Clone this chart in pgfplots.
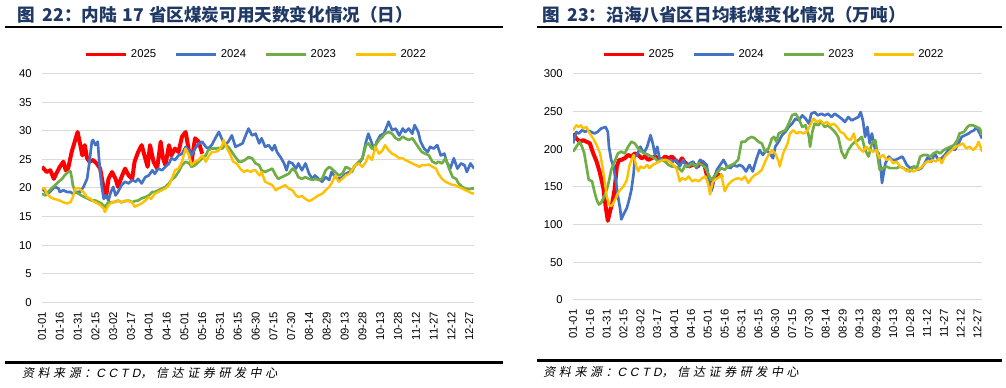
\documentclass[border=0pt]{standalone}
\usepackage{pgfplots}
\pgfplotsset{compat=1.18}
\usepackage{fontspec}
\setmainfont{Liberation Sans}
\newfontfamily\cjk{Noto Sans CJK SC}
\newfontfamily\srcfont[FakeSlant=0.2,LetterSpace=30]{Noto Sans CJK SC}
\newfontfamily\srclatin[FakeSlant=0.2,LetterSpace=30]{Liberation Sans}
\definecolor{c25}{HTML}{FF0000}
\definecolor{c24}{HTML}{4472C4}
\definecolor{c23}{HTML}{70AD47}
\definecolor{c22}{HTML}{FFC000}
\definecolor{titlec}{HTML}{1F3864}
\definecolor{gridc}{HTML}{D9D9D9}
\pgfplotsset{
 panel/.style={
  scale only axis,
  xmin=0, xmax=364,
  xtick={0,15,...,360},
  xticklabels={01-01,01-16,01-31,02-15,03-02,03-17,04-01,04-16,05-01,05-16,05-31,06-15,06-30,07-15,07-30,08-14,08-29,09-13,09-28,10-13,10-28,11-12,11-27,12-12,12-27},
  axis line style={draw=none},
  major tick length=0pt,
  ymajorgrids, grid style={gridc, line width=0.75pt},
  tick label style={font=\fontsize{8.5}{10}\selectfont},
  xticklabel style={yshift=-7pt, rotate=90, anchor=east, inner sep=0pt},
  yticklabel style={anchor=east, inner sep=0pt, xshift=-7.5pt},
  /pgf/number format/assume math mode=true,
  legend style={draw=none, fill=none, legend columns=4, inner sep=0pt, outer sep=0pt,
    font=\fontsize{8.5}{10}\selectfont, anchor=west,
    /tikz/every odd column/.append style={column sep=2.25pt},
    /tikz/every even column/.append style={column sep=14pt},
    nodes={inner sep=0pt}},
  legend image code/.code={\draw[#1, line width=2.25pt] (0pt,0pt) -- (30pt,0pt);},
  every axis plot/.append style={line join=round, mark=none},
 },
 s25/.style={c25, line width=3pt},
 s24/.style={c24, line width=2pt},
 s23/.style={c23, line width=2pt},
 s22/.style={c22, line width=1.8pt},
}
\begin{document}
\begin{tikzpicture}
\useasboundingbox (0,0) rectangle (754.5pt,291pt);
% ---------- left panel ----------
\node[anchor=west, inner sep=0pt, text=titlec] at (12.75pt,279.75pt) {\cjk\bfseries\fontsize{13.2}{15}\selectfont 图\hspace{0.45em}22：内陆\hspace{0.3em}17\hspace{0.3em}省区煤炭可用天数变化情况（日）};
\draw[line width=1.5pt] (3.75pt,270.5pt) -- (377.25pt,270.5pt);
\draw[line width=2pt] (3.75pt,19.3pt) -- (377.25pt,19.3pt);
\node[anchor=west, inner sep=0pt] at (16.3pt,11.25pt) {\srcfont\fontsize{9}{11}\selectfont 资料来源：{\srclatin CCTD}，信达证券研发中心};
\begin{axis}[panel, at={(31.5pt,64.275pt)}, anchor=south west, width=324pt, height=171.45pt,
  ymin=0, ymax=40, ytick={0,5,...,40},
  legend style={at={(0.0995,1.085)}}]
\addplot[s25] coordinates {(0,23.7)(4,22.8)(7,23.1)(10,21.6)(12,22.5)(15,23.7)(18,24.6)(20,23.1)(22,23.4)(25,26.3)(28,28.4)(30,29.8)(32,27.8)(34,25.7)(36,27.5)(38,25.2)(40,24.6)(43,24.9)(46,24.3)(49,23.4)(52,19.9)(54,18.4)(56,21.6)(59,22.8)(62,21.6)(64,20.2)(67,21.9)(70,23.4)(73,22.2)(76,21.6)(78,24.6)(81,26.3)(84,27.5)(87,25.2)(89,23.7)(91,27.5)(94,24.6)(97,23.4)(100,28.1)(102,25.2)(104,24.0)(107,27.5)(109,25.7)(112,26.9)(115,26.3)(118,29.0)(121,29.8)(124,26.3)(126,24.6)(129,28.7)(132,28.1)(135,26.0)};
\addlegendentry{2025}
\addplot[s24] coordinates {(0,19.9)(3,19.3)(5,19.0)(8,19.6)(11,20.2)(14,19.9)(15,19.3)(18,19.6)(21,19.3)(24,19.3)(26,19.0)(29,19.3)(32,19.3)(35,20.2)(38,21.6)(40,24.6)(42,28.1)(43,28.4)(45,27.5)(47,28.1)(48,25.2)(50,20.8)(52,18.1)(54,18.7)(56,17.8)(58,19.3)(60,20.2)(62,18.7)(64,19.3)(67,20.5)(70,21.1)(73,20.8)(76,21.4)(79,21.1)(81,21.6)(84,20.8)(87,21.9)(90,22.2)(93,23.1)(95,22.5)(98,23.4)(101,23.1)(104,23.7)(107,24.3)(109,25.2)(112,24.9)(115,25.7)(118,26.0)(121,27.2)(124,26.6)(126,25.7)(129,26.9)(132,27.8)(135,28.1)(138,27.2)(140,26.9)(143,27.5)(146,28.7)(149,29.8)(152,28.4)(154,27.5)(157,28.1)(160,29.2)(163,27.2)(166,27.5)(169,27.8)(171,28.9)(174,30.4)(177,29.2)(180,29.5)(183,27.8)(185,28.7)(188,27.2)(191,27.5)(194,26.6)(196,27.5)(198,26.3)(201,25.4)(204,24.3)(206,23.1)(208,24.6)(211,24.3)(214,23.4)(216,24.3)(219,23.1)(222,24.3)(225,22.5)(228,21.6)(230,22.2)(233,21.6)(236,21.1)(239,21.9)(242,21.4)(244,22.8)(247,21.9)(250,21.6)(253,21.9)(256,22.5)(259,22.8)(261,23.1)(264,24.0)(267,24.3)(270,25.2)(273,28.1)(275,29.5)(278,27.8)(280,26.6)(282,28.1)(285,29.2)(288,29.5)(291,31.0)(292,31.6)(295,30.1)(298,30.4)(301,29.2)(304,30.4)(306,29.8)(309,30.4)(312,29.5)(314,31.0)(317,29.8)(319,28.1)(322,26.9)(325,26.3)(327,27.2)(330,26.9)(333,27.5)(336,25.7)(339,26.0)(341,24.6)(344,23.4)(347,25.2)(350,23.4)(353,24.3)(356,24.0)(358,22.8)(361,24.3)(364,23.4)};
\addlegendentry{2024}
\addplot[s23] coordinates {(0,19.0)(3,18.7)(5,19.3)(8,19.9)(11,20.5)(14,21.1)(17,21.6)(19,22.2)(22,22.8)(24,22.9)(25,21.9)(26,20.5)(28,19.3)(31,19.0)(33,18.7)(36,18.4)(39,18.1)(42,17.8)(45,17.8)(48,17.5)(50,17.3)(53,16.7)(56,17.5)(59,17.5)(62,17.6)(64,17.8)(67,17.5)(70,17.7)(73,17.8)(76,17.5)(78,17.7)(81,17.8)(84,18.2)(87,18.4)(90,18.7)(93,19.3)(95,19.3)(98,19.6)(101,19.9)(104,20.2)(107,20.8)(109,21.4)(112,21.9)(115,22.8)(118,24.0)(121,24.6)(124,24.3)(126,23.7)(129,24.0)(132,24.6)(135,25.2)(138,25.7)(140,26.6)(143,26.9)(146,26.9)(149,27.0)(152,26.9)(154,27.5)(157,27.2)(160,26.3)(163,25.4)(166,24.6)(168,24.6)(171,24.9)(174,25.4)(177,25.2)(180,24.3)(183,24.0)(185,23.1)(188,22.8)(191,23.1)(194,23.4)(197,22.2)(199,21.6)(202,21.9)(205,22.2)(208,22.5)(211,23.4)(214,22.8)(216,21.9)(219,21.6)(222,21.9)(225,21.6)(228,21.4)(230,21.6)(233,21.4)(236,21.6)(239,23.1)(242,23.7)(244,23.4)(247,22.8)(250,22.2)(253,22.5)(256,23.7)(259,23.4)(261,22.8)(264,24.0)(267,24.6)(270,25.2)(273,27.5)(275,27.8)(278,26.9)(281,27.5)(284,28.4)(287,29.0)(289,29.5)(292,29.8)(295,29.5)(298,28.7)(301,28.4)(304,29.0)(306,28.7)(309,28.4)(312,28.7)(315,27.8)(318,26.9)(320,26.3)(323,26.0)(326,25.7)(329,24.6)(332,24.3)(334,24.6)(337,24.3)(340,25.2)(343,23.4)(346,21.9)(349,21.6)(351,20.8)(354,20.2)(357,19.9)(360,19.8)(362,19.9)(364,19.9)};
\addlegendentry{2023}
\addplot[s22] coordinates {(0,19.9)(2,20.0)(4,19.0)(7,18.4)(10,18.1)(12,18.0)(15,17.8)(18,17.5)(21,17.3)(24,17.5)(26,18.4)(28,19.9)(31,20.0)(33,19.6)(35,19.3)(38,18.4)(41,18.1)(43,17.7)(46,17.4)(49,17.0)(52,16.4)(53,15.8)(56,17.0)(59,17.5)(62,17.5)(64,17.8)(67,17.5)(70,17.8)(73,17.7)(76,17.5)(78,16.7)(81,17.0)(84,17.3)(87,17.8)(90,18.4)(92,18.1)(95,19.0)(98,19.3)(101,19.6)(104,19.9)(107,20.5)(109,21.4)(112,23.1)(115,23.4)(118,24.6)(121,26.9)(124,25.7)(126,24.0)(129,24.6)(132,24.9)(135,25.7)(138,24.6)(140,25.4)(143,26.3)(146,26.3)(149,26.6)(152,27.5)(153,28.4)(156,26.9)(159,25.7)(161,24.6)(164,24.3)(167,23.4)(170,22.8)(173,23.1)(176,22.8)(178,23.1)(180,23.1)(183,22.2)(185,22.8)(188,21.1)(191,20.8)(194,20.5)(197,19.6)(199,19.9)(202,20.2)(205,20.5)(208,19.9)(211,19.6)(214,18.7)(216,18.4)(219,18.6)(222,18.1)(225,17.7)(228,18.0)(230,18.3)(233,18.7)(236,19.0)(239,19.6)(242,20.2)(244,20.8)(247,22.2)(250,21.1)(253,21.6)(256,22.2)(259,22.5)(261,23.1)(264,24.0)(267,24.3)(270,23.7)(273,24.6)(275,25.7)(278,24.9)(281,27.2)(284,26.0)(287,26.6)(289,27.5)(292,26.6)(295,26.0)(298,25.7)(301,25.2)(304,25.2)(306,24.9)(309,24.6)(312,24.3)(315,24.0)(318,23.7)(320,24.0)(323,24.0)(326,24.1)(329,23.7)(332,23.4)(334,22.5)(337,21.6)(340,21.1)(343,20.8)(345,20.6)(348,20.5)(351,20.2)(354,19.9)(357,19.6)(360,19.3)(362,19.1)(364,19.0)};
\addlegendentry{2022}
\end{axis}
% ---------- right panel ----------
\node[anchor=west, inner sep=0pt, text=titlec] at (406.3pt,279.75pt) {\cjk\bfseries\fontsize{13.2}{15}\selectfont 图\hspace{0.45em}23：沿海八省区日均耗煤变化情况（万吨）};
\draw[line width=1.5pt] (402.75pt,270.5pt) -- (751.5pt,270.5pt);
\draw[line width=2pt] (402.75pt,20.5pt) -- (751.5pt,20.5pt);
\node[anchor=west, inner sep=0pt] at (407.3pt,11.6pt) {\srcfont\fontsize{9}{11}\selectfont 资料来源：{\srclatin CCTD}，信达证券研发中心};
\begin{axis}[panel, at={(429.75pt,66pt)}, anchor=south west, width=306.75pt, height=169.725pt,
  ymin=0, ymax=300, ytick={0,50,...,300},
  legend style={at={(0.0726,1.0857)}}]
\addplot[s25] coordinates {(0,220.7)(3,214.1)(6,209.8)(9,211.9)(12,209.8)(15,207.6)(18,194.4)(21,183.5)(24,168.2)(27,148.5)(29,124.4)(31,105)(33,117.9)(35,128.8)(37,146.3)(39,177)(41,185.7)(43,185.7)(46,187.9)(49,192.3)(52,190.1)(55,194.4)(58,192.3)(61,187.9)(64,190.1)(67,185.7)(70,187.9)(73,190.1)(76,187.9)(79,185.7)(82,190.1)(85,187.9)(88,190.1)(91,185.7)(94,181.3)(97,187.9)(99,183.5)(103,176.9)(106,179.1)(108,179.1)(111,176.9)(114,183.5)(117,179)(120,159.4)(123,146.3)(125,159.4)(128,168.2)(131,163.8)(133,166)};
\addlegendentry{2025}
\addplot[s24] coordinates {(0,207.6)(3,222.9)(5,220.7)(8,225.1)(11,222.9)(13,225.1)(16,222.9)(19,220.7)(22,222.9)(25,227.3)(29,229.4)(31,222.9)(32,203.2)(34,185.7)(36,176.9)(38,159.4)(40,137.6)(42,120.1)(43,106.9)(45,113.5)(48,122.3)(50,133.2)(52,146.3)(54,168.2)(55,190.1)(57,192.3)(60,203.2)(63,194.4)(66,203.2)(69,218.5)(71,207.6)(73,192.3)(75,203.2)(77,187.9)(80,185.7)(83,183.5)(86,185.7)(89,183.5)(92,185.7)(95,176.9)(98,185.7)(101,176.9)(104,181.3)(107,183.5)(110,174.8)(113,185.7)(116,183.5)(119,179.1)(122,148.5)(123,144.1)(126,163.8)(128,172.6)(131,179.1)(134,185.7)(137,176.9)(140,174.8)(143,179.1)(146,176.9)(148,179.1)(151,176.9)(154,170.4)(157,179.1)(160,170.4)(163,185.7)(166,198.8)(169,192.3)(172,198.8)(175,194.4)(178,187.9)(180,203.2)(183,209.8)(186,218.5)(189,222.9)(192,229.4)(195,233.8)(198,240.4)(201,238.2)(204,244.8)(207,240.4)(210,233.8)(212,246.9)(215,249.1)(218,244.8)(221,246.9)(224,244.8)(227,246.9)(230,242.6)(233,246.9)(235,244.8)(239,240.4)(242,236.0)(245,242.6)(248,238.2)(251,240.4)(254,242.6)(256,249.1)(258,238.2)(260,216.3)(262,229.4)(264,207.6)(266,220.7)(269,198.8)(272,194.4)(274,172.6)(275,155.1)(278,181.3)(281,190.1)(284,185.7)(287,185.7)(290,187.9)(293,190.1)(294,187.9)(297,179.1)(300,174.8)(304,176.9)(307,172.6)(310,174.8)(313,181.3)(316,190.1)(319,183.5)(322,194.4)(325,185.7)(328,187.9)(331,192.3)(334,198.8)(337,201)(340,198.8)(343,207.6)(346,216.3)(349,218.5)(352,220.7)(354,222.9)(357,225.1)(359,229.4)(362,220.7)(364,214.1)};
\addlegendentry{2024}
\addplot[s23] coordinates {(0,196.6)(3,203.2)(6,209.8)(8,203.2)(10,194.4)(12,176.9)(14,159.4)(17,157.3)(19,144.1)(21,133.2)(23,126.6)(25,128.8)(28,137.6)(30,146.3)(32,157.3)(34,172.6)(37,183.5)(40,194.4)(43,196.6)(46,194.4)(49,203.2)(52,209.8)(55,207.6)(58,201.0)(61,196.6)(64,194.4)(67,192.3)(70,190.1)(73,187.9)(76,183.5)(79,185.7)(82,183.5)(85,179.1)(88,176.9)(90,176.9)(94,174.8)(97,170.4)(100,179.1)(103,176.9)(106,181.3)(109,176.9)(112,181.3)(115,179.1)(118,174.8)(120,168.2)(123,159.4)(126,163.8)(129,170.4)(132,174.8)(135,172.6)(138,176.9)(141,179.1)(144,181.3)(147,185.7)(150,209.8)(153,209.8)(156,214.1)(159,216.3)(162,214.1)(165,209.8)(168,207.6)(171,196.6)(174,201)(177,214.1)(179,216.3)(181,209.8)(183,220.7)(186,222.9)(189,225.1)(192,233.8)(195,244.8)(198,246.9)(201,240.4)(204,229.4)(207,231.6)(210,216.3)(211,203.2)(213,222.9)(215,233.8)(218,231.6)(221,236)(224,229.4)(227,231.6)(230,227.3)(233,222.9)(236,216.3)(239,196.6)(242,187.9)(245,198.8)(248,205.4)(251,209.8)(254,211.9)(257,216.3)(260,198.8)(263,190.1)(266,207.6)(269,211.9)(270,203.2)(272,181.3)(273,172.6)(276,174.8)(279,176.9)(282,174.8)(285,174.8)(288,174.8)(291,176.9)(294,174.8)(297,172.6)(300,170.4)(303,176.9)(306,174.8)(309,190.1)(312,192.3)(315,192.3)(318,190.1)(321,194.4)(324,196.6)(327,194.4)(330,198.8)(333,201)(336,203.2)(339,205.4)(342,211.9)(344,220.7)(348,222.9)(351,229.4)(353,231.6)(356,231.6)(359,229.4)(362,227.3)(364,218.5)};
\addlegendentry{2023}
\addplot[s22] coordinates {(0,225.1)(3,231.6)(5,229.4)(7,231.6)(9,227.3)(12,229.4)(14,222.9)(16,218.5)(18,214.1)(21,205.4)(24,194.4)(26,179.1)(28,159.4)(30,137.6)(32,126.6)(34,124.4)(36,128.8)(39,137.6)(41,144.1)(45,150.7)(48,159.4)(50,176.9)(52,185.7)(54,192.3)(56,179.1)(58,170.4)(60,176.9)(63,174.8)(66,179.1)(68,174.8)(71,179.1)(74,181.3)(77,183.5)(80,185.7)(83,185.7)(86,183.5)(89,179.1)(92,174.8)(95,157.3)(97,161.6)(100,159.4)(103,163.8)(106,157.3)(109,159.4)(112,157.3)(115,161.6)(118,163.8)(120,155.1)(122,139.8)(124,155.1)(126,159.4)(129,161.6)(132,166)(135,144.1)(138,152.9)(141,157.3)(143,159.4)(147,161.6)(150,159.4)(153,163.8)(156,155.1)(159,161.6)(162,166)(165,168.2)(168,172.6)(171,183.5)(174,192.3)(177,198.8)(180,194.4)(183,183.5)(184,176.9)(187,194.4)(191,207.6)(193,220.7)(196,225.1)(199,220.7)(202,222.9)(205,220.7)(208,222.9)(211,231.6)(214,240.4)(217,236)(220,238.2)(223,233.8)(226,236)(229,231.6)(232,233.8)(235,229.4)(238,222.9)(241,220.7)(244,214.1)(247,211.9)(250,220.7)(252,207.6)(255,201)(258,196.6)(261,203.2)(264,198.8)(267,196.6)(270,198.8)(273,187.9)(276,192.3)(279,185.7)(282,187.9)(285,181.3)(288,183.5)(291,176.9)(294,174.8)(297,170.4)(300,172.6)(303,170.4)(306,172.6)(309,174.8)(312,179.1)(315,183.5)(318,183.5)(320,185.7)(323,183.5)(326,187.9)(328,181.3)(331,190.1)(334,194.4)(337,198.8)(341,203.2)(344,205.4)(347,207.6)(350,201)(353,203.2)(356,198.8)(359,203.2)(361,209.8)(364,196.6)};
\addlegendentry{2022}
\end{axis}
\end{tikzpicture}
\end{document}
